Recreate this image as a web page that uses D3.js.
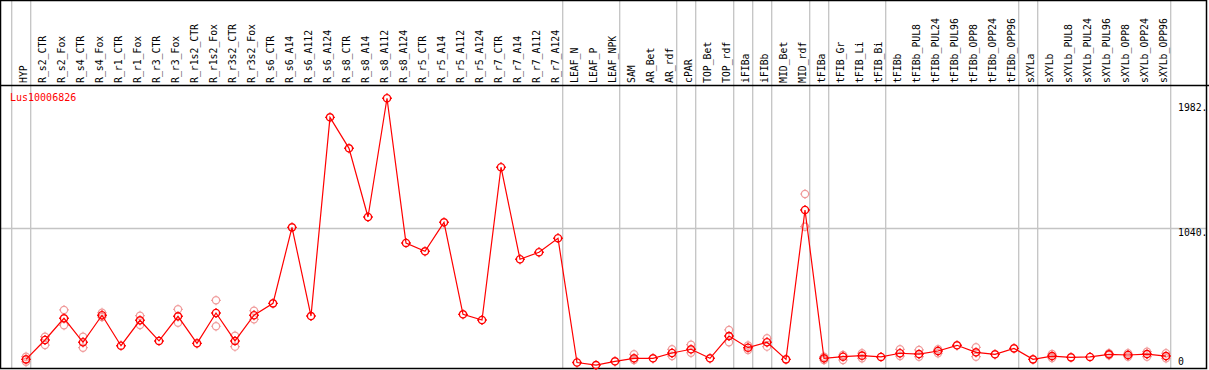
<!DOCTYPE html>
<html>
<head>
<meta charset="utf-8">
<script src="https://cdn.jsdelivr.net/npm/d3@7/dist/d3.min.js"></script>
<style>
  html, body { margin: 0; padding: 0; background: #fff; }
  svg { display: block; }
</style>
</head>
<body>
<svg id="chart" width="1209" height="370"></svg>
<script>
const title = "Lus10006826";
const categories = [
  "HYP","R_s2_CTR","R_s2_Fox","R_s4_CTR","R_s4_Fox","R_r1_CTR","R_r1_Fox","R_r3_CTR","R_r3_Fox",
  "R_r1s2_CTR","R_r1s2_Fox","R_r3s2_CTR","R_r3s2_Fox","R_s6_CTR","R_s6_A14","R_s6_A112","R_s6_A124",
  "R_s8_CTR","R_s8_A14","R_s8_A112","R_s8_A124","R_r5_CTR","R_r5_A14","R_r5_A112","R_r5_A124",
  "R_r7_CTR","R_r7_A14","R_r7_A112","R_r7_A124","LEAF_N","LEAF_P","LEAF_NPK","SAM","AR_Bet","AR_rdf",
  "cPAR","TOP_Bet","TOP_rdf","iFIBa","iFIBb","MID_Bet","MID_rdf","tFIBa","tFIB_Gr","tFIB_Li","tFIB_Bi",
  "tFIBb","tFIBb_PUL8","tFIBb_PUL24","tFIBb_PUL96","tFIBb_OPP8","tFIBb_OPP24","tFIBb_OPP96",
  "sXYLa","sXYLb","sXYLb_PUL8","sXYLb_PUL24","sXYLb_PUL96","sXYLb_OPP8","sXYLb_OPP24","sXYLb_OPP96"
];
const meanValues = [
  48,194,358,177,381,151,343,187,373,169,398,187,381,471,1045,375,1876,
  1642,1123,2020,927,864,1083,388,345,
  1499,804,857,963,24,5,33,56,56,96,
  124,56,224,136,177,48,1176,56,68,76,66,
  94,88,111,154,101,86,131,
  48,73,63,66,86,81,88,73
];
const rep1 = [
  68,219,421,219,400,null,378,null,426,null,494,227,415,null,null,null,null,
  null,null,null,null,null,null,null,null,
  null,null,null,null,null,null,null,86,null,124,
  159,null,270,119,207,null,1297,43,81,94,null,
  124,119,124,null,139,null,null,
  null,88,null,null,94,94,106,94
];
const rep2 = [
  30,156,305,136,368,null,307,null,325,null,298,144,350,null,null,null,null,
  null,null,null,null,null,null,null,null,
  null,null,null,null,null,null,null,43,null,73,
  98,null,177,153,144,null,1050,68,43,56,null,
  73,68,94,null,68,null,null,
  null,58,null,null,79,68,68,56
];
// categories after which a grey separator is drawn ("" = before first)
const separatorsAfter = ["", "HYP","R_r7_A124","LEAF_NPK","AR_rdf","cPAR","TOP_rdf","iFIBa","iFIBb",
  "MID_rdf","tFIBa","tFIB_Bi","tFIBb_OPP96","sXYLa","sXYLb_OPP96"];
const yTickValues = [0, 1040, 1982];
const yTickLabels = ["0", "1040.", "1982."];
const gridValues = [1040];

const W = 1209, H = 370;
const svg = d3.select("#chart");
const font = "'DejaVu Sans Mono', 'Liberation Mono', monospace";
const red = "#ff0000", pink = "#f09a9a", grey = "#c4c4c4";

const x = d3.scalePoint().domain(categories).range([26, 1166]);
const step = x.step();
const y = d3.scaleLinear().domain([0, 1982]).range([365.7, 103.3]);

// separators
svg.append("g").selectAll("line").data(separatorsAfter).join("line")
  .attr("x1", d => (d === "" ? x(categories[0]) - step : x(d)) + 4.7 )
  .attr("x2", d => (d === "" ? x(categories[0]) - step : x(d)) + 4.7 )
  .attr("y1", 0).attr("y2", 369)
  .attr("stroke", grey).attr("stroke-width", 1.3);

// grid line
svg.append("g").selectAll("line").data(gridValues).join("line")
  .attr("x1", 0).attr("x2", 1207)
  .attr("y1", d => Math.round(y(d)) + 0.5).attr("y2", d => Math.round(y(d)) + 0.5)
  .attr("stroke", grey).attr("stroke-width", 1.3);

// frame
svg.append("rect").attr("x", 0.5).attr("y", 0.5).attr("width", 1206).attr("height", 368)
  .attr("fill", "none").attr("stroke", "#000").attr("stroke-width", 1.5);
svg.append("line").attr("x1", 0).attr("x2", W).attr("y1", 85.5).attr("y2", 85.5)
  .attr("stroke", "#000").attr("stroke-width", 1.5);

// category labels
svg.append("g").selectAll("text").data(categories).join("text")
  .attr("transform", d => `translate(${x(d) + 1},83) rotate(-90)`)
  .attr("font-family", font).attr("font-size", "9.8px").attr("fill", "#000")
  .text(d => d);

// y tick labels
svg.append("g").selectAll("text").data(yTickValues).join("text")
  .attr("x", 1178)
  .attr("y", (d, i) => d === 0 ? y(d) - 0.5 : y(d) + 8)
  .attr("font-family", font).attr("font-size", "9.8px").attr("fill", "#000")
  .text((d, i) => yTickLabels[i]);

// title
svg.append("text").attr("x", 10).attr("y", 101)
  .attr("font-family", font).attr("font-size", "10px").attr("fill", red)
  .text(title);

function markerPath(r, t) {
  const p = d3.path();
  p.moveTo(r, 0); p.arc(0, 0, r, 0, 2 * Math.PI);
  p.moveTo(0, -r); p.lineTo(0, -r - t);
  p.moveTo(0, r); p.lineTo(0, r + t);
  p.moveTo(-r, 0); p.lineTo(-r - t, 0);
  p.moveTo(r, 0); p.lineTo(r + t, 0);
  return p.toString();
}
const mp = markerPath(3.6, 1.3);

// replicates
const reps = [];
categories.forEach((c, i) => {
  if (rep1[i] != null) reps.push({ c, v: rep1[i] });
  if (rep2[i] != null) reps.push({ c, v: rep2[i] });
});
svg.append("g").selectAll("path").data(reps).join("path")
  .attr("transform", d => `translate(${x(d.c)},${y(d.v)})`)
  .attr("d", mp).attr("fill", "none").attr("stroke", pink).attr("stroke-width", 1.2);

// mean line
const pts = categories.map((c, i) => ({ c, v: meanValues[i] }));
svg.append("path").datum(pts)
  .attr("d", d3.line().x(d => x(d.c)).y(d => y(d.v)))
  .attr("fill", "none").attr("stroke", red).attr("stroke-width", 1.2);

svg.append("g").selectAll("path").data(pts).join("path")
  .attr("transform", d => `translate(${x(d.c)},${y(d.v)})`)
  .attr("d", mp).attr("fill", "none").attr("stroke", red).attr("stroke-width", 1.4);
</script>
</body>
</html>
